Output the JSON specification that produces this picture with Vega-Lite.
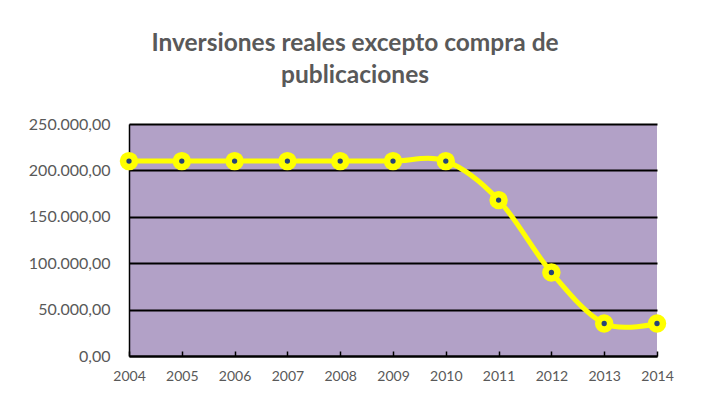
{
  "$schema": "https://vega.github.io/schema/vega-lite/v6.json",
  "width": 528,
  "height": 232,
  "autosize": {"type": "none"},
  "padding": {"left": 129, "top": 124, "right": 51, "bottom": 47},
  "background": "white",
  "title": {
    "text": ["Inversiones reales excepto compra de", "publicaciones"],
    "font": "Lato",
    "fontSize": 24.5,
    "fontWeight": "bold",
    "color": "#595959",
    "lineHeight": 32,
    "anchor": "middle",
    "frame": "group",
    "dx": -38,
    "offset": 28
  },
  "data": {
    "values": [
      {"year": "2004", "value": 210000},
      {"year": "2005", "value": 210000},
      {"year": "2006", "value": 210000},
      {"year": "2007", "value": 210000},
      {"year": "2008", "value": 210000},
      {"year": "2009", "value": 210000},
      {"year": "2010", "value": 210000},
      {"year": "2011", "value": 168000},
      {"year": "2012", "value": 90000},
      {"year": "2013", "value": 35000},
      {"year": "2014", "value": 35000}
    ]
  },
  "encoding": {
    "x": {
      "field": "year",
      "type": "ordinal",
      "scale": {"type": "point", "padding": 0},
      "axis": {
        "title": null,
        "labelAngle": 0,
        "labelFont": "Lato",
        "labelFontSize": 14,
        "labelColor": "#595959",
        "domainColor": "#000000",
        "domainWidth": 2,
        "tickColor": "#000000",
        "tickWidth": 1.5,
        "tickSize": -5,
        "labelPadding": 18,
        "grid": false
      }
    },
    "y": {
      "field": "value",
      "type": "quantitative",
      "scale": {"domain": [0, 250000], "nice": false},
      "axis": {
        "title": null,
        "values": [0, 50000, 100000, 150000, 200000, 250000],
        "format": ",.2f",
        "labelFont": "Lato",
        "labelFontSize": 16,
        "labelColor": "#595959",
        "ticks": false,
        "labelPadding": 19,
        "domainColor": "#000000",
        "domainWidth": 1.5,
        "grid": true,
        "gridColor": "#000000",
        "gridWidth": 1.8,
        "gridOpacity": 1
      }
    }
  },
  "layer": [
    {
      "mark": {"type": "line", "color": "#FFFF00", "strokeWidth": 5, "interpolate": "cardinal"}
    },
    {
      "mark": {"type": "point", "shape": "circle", "filled": true, "color": "#FFFF00", "size": 340, "opacity": 1}
    },
    {
      "mark": {"type": "point", "shape": "circle", "filled": true, "color": "#264478", "size": 28, "opacity": 1}
    }
  ],
  "config": {
    "view": {"fill": "#B2A1C7", "stroke": null},
    "locale": {
      "number": {
        "decimal": ",",
        "thousands": ".",
        "grouping": [3],
        "currency": ["", " €"]
      }
    }
  }
}
